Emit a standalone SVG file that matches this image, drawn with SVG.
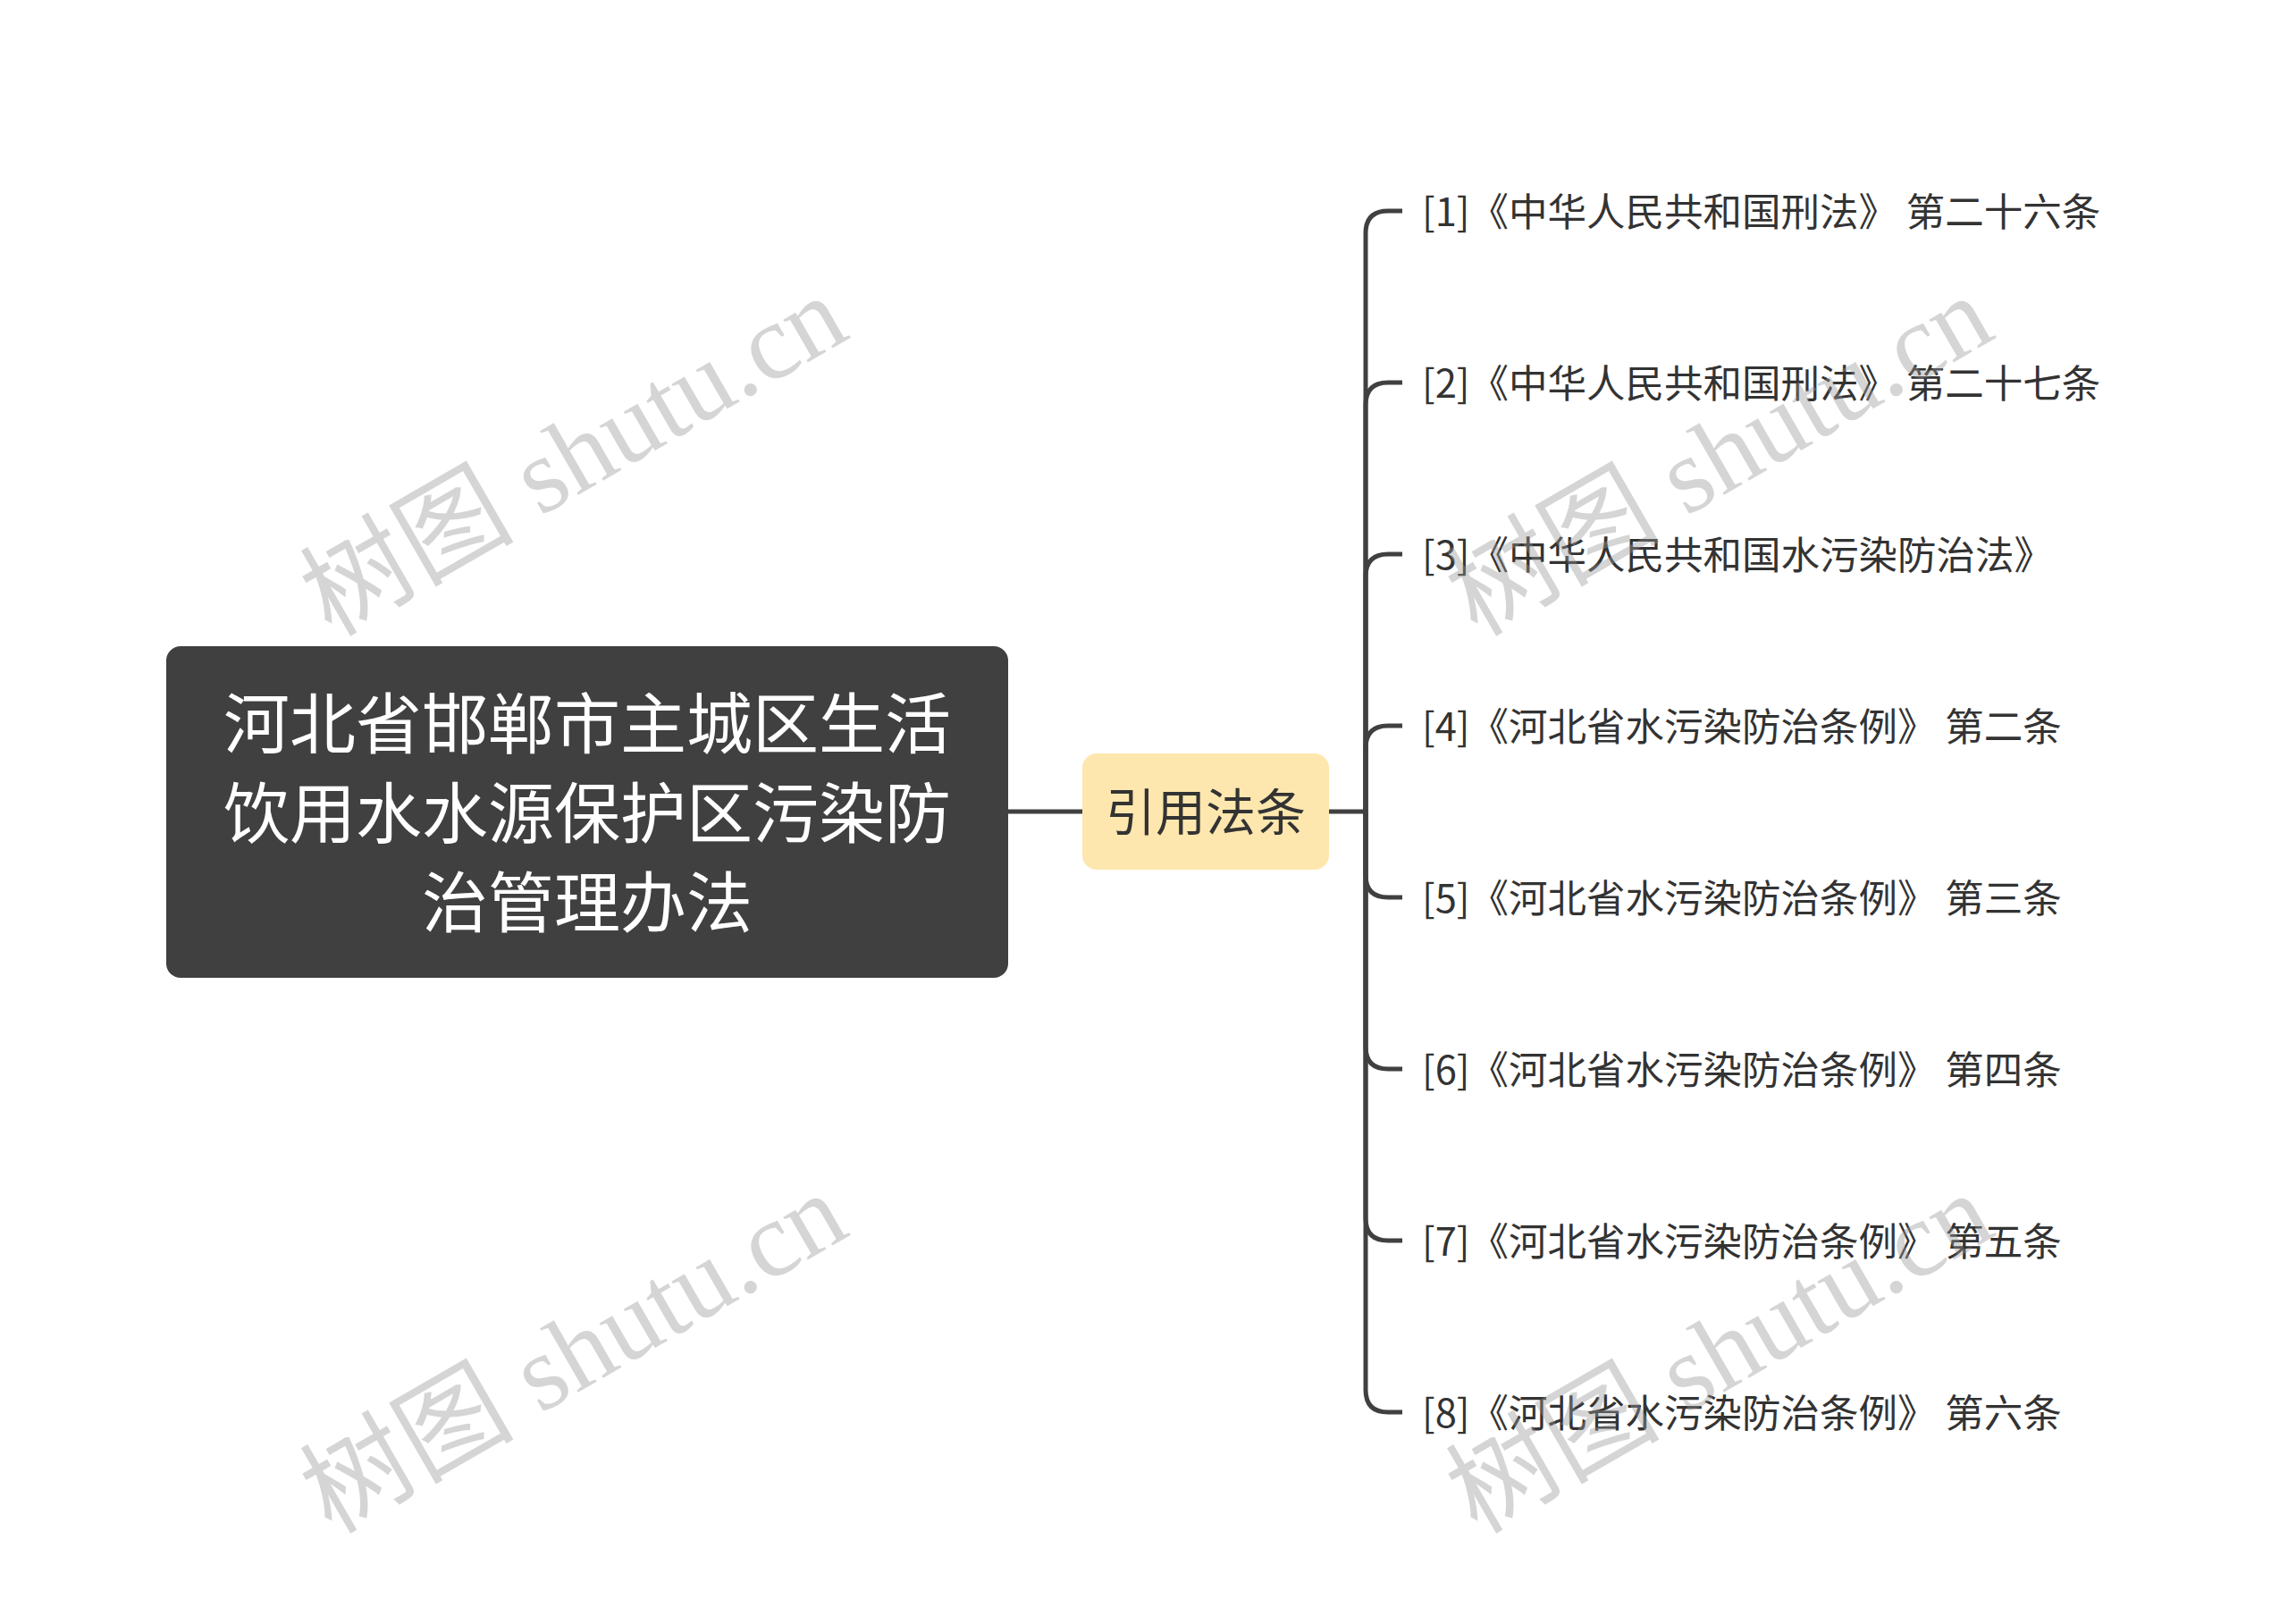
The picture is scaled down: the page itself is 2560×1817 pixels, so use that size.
<svg xmlns="http://www.w3.org/2000/svg" width="2560" height="1817" viewBox="0 0 2560 1817">
<style>
.conn{fill:none;stroke:#404040;stroke-width:5;stroke-linecap:butt;stroke-linejoin:round}
.root-t{font-family:"Noto Sans CJK SC","Noto Sans",sans-serif;font-size:74px;fill:#ffffff;text-anchor:middle}
.mid-t{font-family:"Noto Sans CJK SC","Noto Sans",sans-serif;font-size:56px;fill:#333333;text-anchor:middle}
.leaf-t{font-family:"Noto Sans CJK SC","Noto Sans",sans-serif;font-size:43.5px;fill:#333333}
.wm{font-family:"Liberation Serif","Noto Sans CJK SC",serif;font-size:120px;fill:#969696;fill-opacity:0.4;text-anchor:middle}
</style>
<rect width="2560" height="1817" fill="#ffffff"/>
<g id="connectors">
<path class="conn" d="M1128 908 H1211"/>
<path class="conn" d="M1487 908 H1528"/>
<path class="conn" d="M1528 908 V261 Q1528 236 1553 236 H1569"/>
<path class="conn" d="M1528 908 V453 Q1528 428 1553 428 H1569"/>
<path class="conn" d="M1528 908 V645 Q1528 620 1553 620 H1569"/>
<path class="conn" d="M1528 908 V837 Q1528 812 1553 812 H1569"/>
<path class="conn" d="M1528 908 V979 Q1528 1004 1553 1004 H1569"/>
<path class="conn" d="M1528 908 V1171 Q1528 1196 1553 1196 H1569"/>
<path class="conn" d="M1528 908 V1363 Q1528 1388 1553 1388 H1569"/>
<path class="conn" d="M1528 908 V1555 Q1528 1580 1553 1580 H1569"/>
</g>
<g id="root">
<rect x="186" y="723" width="942" height="371" rx="16" ry="16" fill="#404040"/>
<text class="root-t" x="657" y="837">河北省邯郸市主城区生活</text>
<text class="root-t" x="657" y="937">饮用水水源保护区污染防</text>
<text class="root-t" x="657" y="1037">治管理办法</text>
</g>
<g id="mid">
<rect x="1211" y="843" width="276" height="130" rx="16" ry="16" fill="#FEE7AE"/>
<text class="mid-t" x="1349" y="929">引用法条</text>
</g>
<g id="leaf1"><text class="leaf-t" x="1591" y="252.5">[1]《中华人民共和国刑法》 第二十六条</text></g>
<g id="leaf2"><text class="leaf-t" x="1591" y="444.5">[2]《中华人民共和国刑法》 第二十七条</text></g>
<g id="leaf3"><text class="leaf-t" x="1591" y="636.5">[3]《中华人民共和国水污染防治法》</text></g>
<g id="leaf4"><text class="leaf-t" x="1591" y="828.5">[4]《河北省水污染防治条例》 第二条</text></g>
<g id="leaf5"><text class="leaf-t" x="1591" y="1020.5">[5]《河北省水污染防治条例》 第三条</text></g>
<g id="leaf6"><text class="leaf-t" x="1591" y="1212.5">[6]《河北省水污染防治条例》 第四条</text></g>
<g id="leaf7"><text class="leaf-t" x="1591" y="1404.5">[7]《河北省水污染防治条例》 第五条</text></g>
<g id="leaf8"><text class="leaf-t" x="1591" y="1596.5">[8]《河北省水污染防治条例》 第六条</text></g>
<g id="watermarks">
<text class="wm" transform="translate(662 545) rotate(-30)">树图 shutu.cn</text>
<text class="wm" transform="translate(1944 545) rotate(-30)">树图 shutu.cn</text>
<text class="wm" transform="translate(662 1549) rotate(-30)">树图 shutu.cn</text>
<text class="wm" transform="translate(1944 1549) rotate(-30)">树图 shutu.cn</text>
</g>
</svg>
